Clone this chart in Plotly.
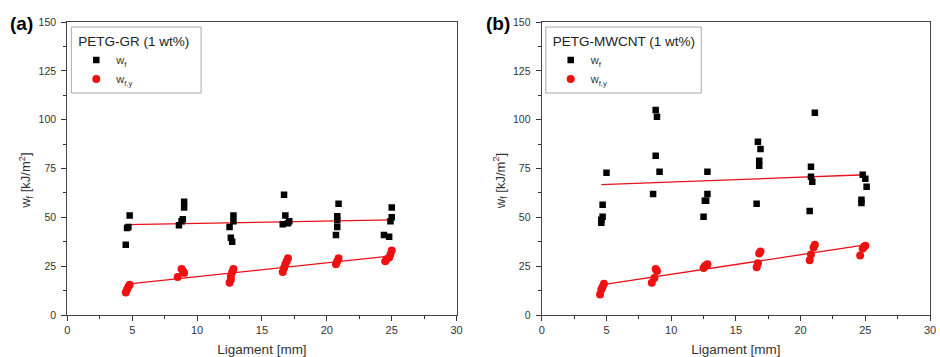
import plotly.graph_objects as go

# ---------------- data ----------------
# Panel (a) PETG-GR (1 wt%)
a_wf_x = [4.5, 4.6, 4.7, 4.8, 8.6, 8.8, 8.9, 9.0, 9.0,
          12.5, 12.6, 12.7, 12.8, 12.8,
          16.6, 16.7, 16.8, 17.0, 17.1,
          20.7, 20.8, 20.8, 20.8, 20.9,
          24.4, 24.8, 24.9, 25.0, 25.0]
a_wf_y = [36, 44.5, 45, 51, 46, 48, 49, 55, 58,
          45, 39.5, 37.5, 48, 51,
          46.5, 61.5, 51, 47, 48,
          41, 45, 48.5, 50.5, 57,
          41, 40, 48, 50, 55]
a_wfy_x = [4.5, 4.6, 4.7, 4.8, 8.5, 8.8, 8.9, 9.0,
           12.5, 12.6, 12.6, 12.7, 12.8,
           16.6, 16.7, 16.8, 16.9, 17.0,
           20.7, 20.8, 20.9,
           24.5, 24.6, 24.8, 24.9, 25.0]
a_wfy_y = [11.5, 13, 14.5, 15.5, 19.5, 23.5, 22.5, 21.5,
           16.5, 18, 20, 22, 23.5,
           22, 24, 26, 27.5, 29,
           26, 27.5, 29,
           27.5, 28.5, 29.5, 31, 33]
a_fit_x = [4.6, 25.0]
a_fit_wf = [46.3, 48.7]
a_fit_wfy = [15.8, 30.3]

# Panel (b) PETG-MWCNT (1 wt%)
b_wf_x = [4.6, 4.6, 4.7, 4.7, 5.0,
          8.6, 8.8, 8.8, 8.9, 9.1,
          12.5, 12.6, 12.7, 12.8, 12.8,
          16.6, 16.7, 16.8, 16.8, 16.9,
          20.7, 20.8, 20.8, 20.9, 21.1,
          24.7, 24.7, 24.8, 25.0, 25.1]
b_wf_y = [47.2, 48.7, 50.3, 56.4, 72.8,
          62, 105, 81.5, 101.5, 73.3,
          50.3, 58.5, 58.5, 62, 73.3,
          56.9, 88.7, 76.4, 79, 85,
          53.3, 70.8, 75.9, 68.2, 103.6,
          57.4, 59, 71.8, 69.7, 65.6]
b_wfy_x = [4.5, 4.6, 4.7, 4.8,
           8.5, 8.7, 8.8, 8.9,
           12.5, 12.6, 12.7, 12.8,
           16.6, 16.7, 16.8, 16.9,
           20.7, 20.8, 21.0, 21.1,
           24.6, 24.8, 24.9, 25.0]
b_wfy_y = [10.5, 13, 14.5, 16,
           16.5, 19, 23.5, 22.5,
           24, 25, 25.5, 26,
           24.5, 26.5, 31.5, 32.5,
           28, 31, 34.5, 36,
           30.5, 34, 35, 35.5]
b_fit_x = [4.6, 25.0]
b_fit_wf = [66.7, 71.8]
b_fit_wfy = [15.4, 35.9]

x_ticks = [0, 5, 10, 15, 20, 25, 30]
y_ticks = [0, 25, 50, 75, 100, 125, 150]
panel_labels = ["(a)", "(b)"]
legend_titles = ["PETG-GR (1 wt%)", "PETG-MWCNT (1 wt%)"]
name_wf = "w<sub>f</sub>"
name_wfy = "w<sub>f,y</sub>"
x_title = "Ligament [mm]"
y_title = "w<sub>f</sub> [kJ/m<sup>2</sup>]"

# ---------------- figure ----------------
W, H = 940, 357
FONT = "Arial, Liberation Sans, sans-serif"
fig = go.Figure()

def add_panel(xa, ya, leg, wx, wy, fx, fy, fitx, fitwf, fitwfy):
    fig.add_trace(go.Scatter(x=fitx, y=fitwf, mode="lines", xaxis=xa, yaxis=ya,
                             line=dict(color="#e8101a", width=1.3), showlegend=False,
                             hoverinfo="skip"))
    fig.add_trace(go.Scatter(x=fitx, y=fitwfy, mode="lines", xaxis=xa, yaxis=ya,
                             line=dict(color="#e8101a", width=1.3), showlegend=False,
                             hoverinfo="skip"))
    fig.add_trace(go.Scatter(x=wx, y=wy, mode="markers", name=name_wf, xaxis=xa, yaxis=ya,
                             legend=leg,
                             marker=dict(symbol="square", size=6.5, color="black")))
    fig.add_trace(go.Scatter(x=fx, y=fy, mode="markers", name=name_wfy, xaxis=xa, yaxis=ya,
                             legend=leg,
                             marker=dict(symbol="circle", size=8, color="#ee1111")))

add_panel("x", "y", "legend", a_wf_x, a_wf_y, a_wfy_x, a_wfy_y, a_fit_x, a_fit_wf, a_fit_wfy)
add_panel("x2", "y2", "legend2", b_wf_x, b_wf_y, b_wfy_x, b_wfy_y, b_fit_x, b_fit_wf, b_fit_wfy)

def xaxis(dom, anchor):
    return dict(domain=dom, anchor=anchor, range=[0, 30], tickvals=x_ticks,
                ticks="outside", ticklen=5, tickwidth=1, tickcolor="#333",
                minor=dict(dtick=2.5, tick0=0, ticks="outside", ticklen=3, tickcolor="#333"),
                showline=True, linecolor="#444", linewidth=1.3, mirror=True,
                showgrid=False, zeroline=False,
                tickfont=dict(family=FONT, size=11, color="#333"),
                title=dict(text=x_title, font=dict(family=FONT, size=13.5, color="#333"), standoff=10))

def yaxis(anchor):
    return dict(domain=[0, 1], anchor=anchor, range=[0, 150], tickvals=y_ticks,
                ticks="outside", ticklen=5, tickwidth=1, tickcolor="#333",
                minor=dict(dtick=12.5, tick0=0, ticks="outside", ticklen=3, tickcolor="#333"),
                showline=True, linecolor="#444", linewidth=1.3, mirror=True,
                showgrid=False, zeroline=False, ticklabelstandoff=3,
                tickfont=dict(family=FONT, size=10.5, color="#333"))

xd1 = [65 / W, 458 / W]
xd2 = [544 / W, 936 / W]
plot_h = H - 22 - 42

def py(p):
    return (315 - p) / plot_h

def leg(x_px, y_px, title):
    return dict(x=x_px / W, y=py(y_px), xanchor="left", yanchor="top",
                bgcolor="rgba(0,0,0,0)", borderwidth=0,
                title=dict(text=title, font=dict(family=FONT, size=13.5, color="#222")),
                font=dict(family=FONT, size=11, color="#333"),
                tracegroupgap=0, itemwidth=30)

fig.update_layout(
    width=W, height=H,
    margin=dict(l=0, r=0, t=22, b=42),
    paper_bgcolor="white", plot_bgcolor="white",
    xaxis=xaxis(xd1, "y"), yaxis=yaxis("x"),
    xaxis2=xaxis(xd2, "y2"), yaxis2=yaxis("x2"),
    legend=leg(74, 28, legend_titles[0]),
    legend2=leg(553, 28, legend_titles[1]),
    showlegend=True,
)

# legend frames
fig.add_shape(type="rect", xref="paper", yref="paper",
              x0=69 / W, x1=200 / W, y0=py(93), y1=py(27),
              line=dict(color="#aaa", width=1), fillcolor="rgba(0,0,0,0)")
fig.add_shape(type="rect", xref="paper", yref="paper",
              x0=548 / W, x1=705 / W, y0=py(93), y1=py(27),
              line=dict(color="#aaa", width=1), fillcolor="rgba(0,0,0,0)")

# y-axis titles
for xpx in (23, 502):
    fig.add_annotation(text=y_title, xref="paper", yref="paper", textangle=-90,
                       x=xpx / W, y=py(181), xanchor="center", yanchor="middle",
                       showarrow=False, font=dict(family=FONT, size=13, color="#333"))

# panel labels
fig.add_annotation(text="<b>" + panel_labels[0] + "</b>", xref="paper", yref="paper",
                   x=5 / W, y=py(23), xanchor="left", yanchor="middle", showarrow=False,
                   font=dict(family=FONT, size=19, color="black"))
fig.add_annotation(text="<b>" + panel_labels[1] + "</b>", xref="paper", yref="paper",
                   x=486 / W, y=py(23), xanchor="left", yanchor="middle", showarrow=False,
                   font=dict(family=FONT, size=19, color="black"))

fig.write_html("out.html")
